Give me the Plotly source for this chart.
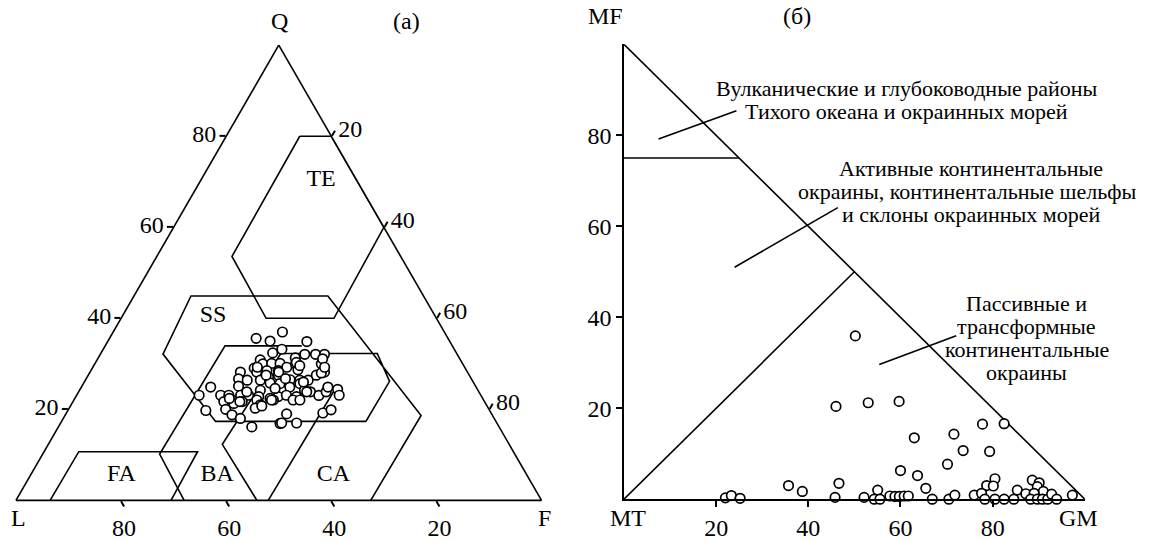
import plotly.graph_objects as go

W, H = 1149, 541
FONT = "Liberation Serif"

# ---------------- Panel (a): QFL ternary (Q, F in %; L = 100 - Q - F) ----------------
qfl_Q = [35.6, 35.0, 37.0, 34.9, 32.4, 32.1, 32.1, 30.85, 30.0, 30.1, 30.1, 31.3, 32.1,
         29.05, 28.2, 28.5, 28.5, 29.25, 30.0, 28.7, 30.0, 28.2, 28.2, 26.7, 26.4, 26.4,
         27.1, 27.5, 26.5, 26.4, 26.4, 27.5, 25.1, 24.2, 25.8, 25.65, 24.9, 25.65, 24.2,
         23.85, 23.05, 23.85, 24.9, 23.1, 23.1, 23.1, 22.05, 23.1, 23.1, 22.8, 22.4, 22.8,
         23.1, 22.8, 21.7, 21.3, 21.7, 22.05, 21.0, 22.05, 22.05, 22.05, 19.75, 20.0, 18.8,
         18.0, 20.25, 20.75, 19.0, 16.9, 17.0, 16.15, 19.2, 28.0, 24.9, 24.4, 23.1, 19.9,
         17.0, 33.2, 31.1, 29.25, 29.25, 28.2, 30.3, 29.6, 27.5, 26.75, 26.0, 23.85, 24.6,
         23.85, 22.4, 21.7, 22.05]
qfl_F = [27.9, 30.85, 32.2, 37.9, 32.65, 40.95, 42.65, 31.05, 31.97, 33.6, 35.2, 37.5, 38.9,
         30.8, 31.7, 33.5, 35.7, 36.9, 38.2, 39.3, 43.1, 44.6, 28.6, 29.0, 30.8, 33.3,
         34.5, 36.2, 38.9, 40.8, 42.4, 43.4, 29.8, 34.4, 35.45, 37.4, 39.65, 41.2, 42.8,
         44.1, 46.1, 47.1, 24.6, 23.3, 27.4, 28.95, 30.1, 31.2, 32.7, 34.8, 37.15, 38.5,
         39.9, 41.97, 28.7, 30.8, 32.2, 34.8, 36.0, 37.95, 41.7, 43.0, 26.25, 29.9, 31.7,
         33.7, 35.4, 36.4, 42.0, 41.8, 44.9, 36.8, 48.8, 44.1, 46.9, 49.0, 49.95, 50.0,
         42.05, 34.0, 42.8, 44.1, 31.3, 35.9, 38.2, 39.2, 33.85, 37.9, 41.7, 43.4, 37.0,
         32.0, 29.4, 31.75, 37.6]

# field boundaries (Q, F)
TE_Q = [80, 80, 60, 40, 40, 53.6, 80]
TE_F = [14.0, 20.0, 40.0, 40.5, 27.6, 14.3, 14.0]
FA_Q = [0, 10.7, 10.7, 0]
FA_F = [6.5, 6.6, 29.2, 29.5]
BA_Q = [33.95, 33.95, 10.16, 0]
BA_F = [37.4, 22.8, 22.26, 32.0]
SS_Q = [0, 12.32, 32.28, 32.28, 26.16, 17.36, 17.36, 32.15, 44.9, 44.9, 18.66, 0]
SS_F = [45.85, 33.1, 34.25, 52.6, 58.0, 57.9, 29.3, 11.9, 10.85, 36.9, 67.75, 67.5]
CA_Q = [0, 25.3]
CA_F = [48.0, 48.5]

field_names = ["TE", "SS", "FA", "BA", "CA"]
field_Q = [70.3, 40.4, 5.5, 5.6, 5.6]
field_F = [22.9, 17.3, 17.3, 35.5, 57.6]

tern_ticks = [20, 40, 60, 80]

# ---------------- Panel (б): MT - GM - MF ----------------
gm = [22.0, 23.3, 25.2, 35.7, 38.7, 45.8, 46.65, 46.0, 50.2, 52.1, 53.0, 55.05, 54.3, 55.55,
      57.7, 58.8, 59.75, 60.8, 61.7, 59.7, 60.0, 63.0, 63.7, 65.5, 66.9, 70.2, 71.6, 73.6,
      70.5, 71.8, 76.0, 77.8, 82.5, 79.35, 80.5, 78.7, 80.15, 77.6, 78.3, 80.5, 82.5, 84.6,
      85.35, 87.2, 88.6, 90.1, 89.7, 91.0, 89.0, 88.25, 89.7, 90.8, 91.95, 92.8, 93.9, 97.3]
mf = [0.3, 0.8, 0.2, 3.0, 1.7, 0.4, 3.5, 20.4, 35.9, 0.4, 21.2, 2.0, 0.0, 0.0,
      0.7, 0.6, 0.6, 0.7, 0.7, 21.5, 6.3, 13.5, 5.2, 2.4, 0.0, 7.7, 14.3, 10.7,
      0.0, 0.9, 0.9, 16.5, 16.6, 10.5, 4.5, 3.0, 2.9, 1.3, 0.0, 0.0, 0.0, 0.0,
      2.0, 1.2, 4.2, 3.6, 2.75, 1.7, 1.3, 0.0, 0.0, 0.0, 0.0, 1.1, 0.0, 0.9]

hyp_x, hyp_y = [0, 100], [100, 0]
vol_x, vol_y = [0, 25], [75, 75]
act_x, act_y = [0, 50], [0, 50]
lead1_x, lead1_y = [7.5, 24.4], [79.2, 85.4]
lead2_x, lead2_y = [24.0, 46.4], [51.0, 64.1]
lead3_x, lead3_y = [55.4, 72.1], [29.6, 35.95]
rect_ticks = [20, 40, 60, 80]

fig = go.Figure()

line_style = dict(color="black", width=1.6)
marker_style = dict(symbol="circle", size=9.5, color="white",
                    line=dict(color="black", width=1.7))

for qa, fa in [(TE_Q, TE_F), (FA_Q, FA_F), (BA_Q, BA_F), (SS_Q, SS_F), (CA_Q, CA_F)]:
    fig.add_trace(go.Scatterternary(a=qa, c=fa, mode="lines", line=line_style,
                                    hoverinfo="skip", showlegend=False))

fig.add_trace(go.Scatterternary(a=qfl_Q, c=qfl_F, mode="markers", marker=marker_style,
                                showlegend=False, cliponaxis=False))

fig.add_trace(go.Scatterternary(a=field_Q, c=field_F, mode="text", text=field_names,
                                textfont=dict(family=FONT, size=24, color="black"),
                                showlegend=False, hoverinfo="skip"))

for xs, ys in [(hyp_x, hyp_y), (vol_x, vol_y), (act_x, act_y),
               (lead1_x, lead1_y), (lead2_x, lead2_y), (lead3_x, lead3_y)]:
    fig.add_trace(go.Scatter(x=xs, y=ys, mode="lines", line=line_style,
                             hoverinfo="skip", showlegend=False, cliponaxis=False))

fig.add_trace(go.Scatter(x=gm, y=mf, mode="markers", marker=marker_style,
                         showlegend=False, cliponaxis=False))

tick_font = dict(family=FONT, size=24, color="black")
tern_axis = dict(tickvals=tern_ticks, ticks="outside", ticklen=6, tickwidth=1.5,
                 tickcolor="black", linecolor="black", linewidth=1.6, showgrid=False,
                 tickfont=tick_font, title=dict(text=""), showline=True)

fig.update_layout(
    width=W, height=H,
    margin=dict(l=0, r=0, t=0, b=0),
    paper_bgcolor="white", plot_bgcolor="white",
    font=dict(family=FONT, color="black"),
    ternary=dict(
        sum=100,
        domain=dict(x=[13 / W, 544.5 / W], y=[1 - 507.9 / H, 1 - 45.9 / H]),
        bgcolor="white",
        aaxis=tern_axis, baxis=tern_axis, caxis=tern_axis,
    ),
    xaxis=dict(domain=[624 / W, 1084.8 / W], range=[0, 100], showgrid=False, zeroline=False,
               showline=True, linecolor="black", linewidth=1.6, ticks="outside",
               ticklen=6, tickwidth=1.5, tickcolor="black", tickvals=rect_ticks,
               tickfont=tick_font, anchor="y"),
    yaxis=dict(domain=[1 - 506.7 / H, 1 - 45 / H], range=[0, 100], showgrid=False,
               zeroline=False, showline=True, linecolor="black", linewidth=1.6,
               ticks="outside", ticklen=6, tickwidth=1.5, tickcolor="black",
               tickvals=rect_ticks, tickfont=tick_font, anchor="x"),
    showlegend=False,
)

def px_ann(text, x, y, size=24):
    fig.add_annotation(text=text, x=x / W, y=1 - y / H, xref="paper", yref="paper",
                       showarrow=False, xanchor="center", yanchor="middle",
                       font=dict(family=FONT, size=size, color="black"))

px_ann("Q", 279, 21)
px_ann("(а)", 407, 21)
px_ann("L", 18, 526)
px_ann("F", 544, 526)
px_ann("MF", 605, 16)
px_ann("(б)", 797, 16)
px_ann("MT", 628, 526)
px_ann("GM", 1078, 526)

def data_ann(text, x, y, size=22):
    fig.add_annotation(text=text, x=x, y=y, xref="x", yref="y", showarrow=False,
                       xanchor="center", yanchor="middle",
                       font=dict(family=FONT, size=size, color="black"))

data_ann("Вулканические и глубоководные районы", 61.2, 90.25)
data_ann("Тихого океана и окраинных морей", 61.4, 85.25)
data_ann("Активные континентальные", 75.2, 72.6)
data_ann("окраины, континентальные шельфы", 74.4, 67.6)
data_ann("и склоны окраинных морей", 75.4, 62.5)
data_ann("Пассивные и", 87.4, 43.0)
data_ann("трансформные", 87.4, 37.9)
data_ann("континентальные", 87.4, 32.9)
data_ann("окраины", 87.4, 27.8)

fig.write_html("out.html",
               config={"displayModeBar": False},
               post_script="document.body.style.margin='0px';"
                           "document.body.style.overflow='hidden';")
